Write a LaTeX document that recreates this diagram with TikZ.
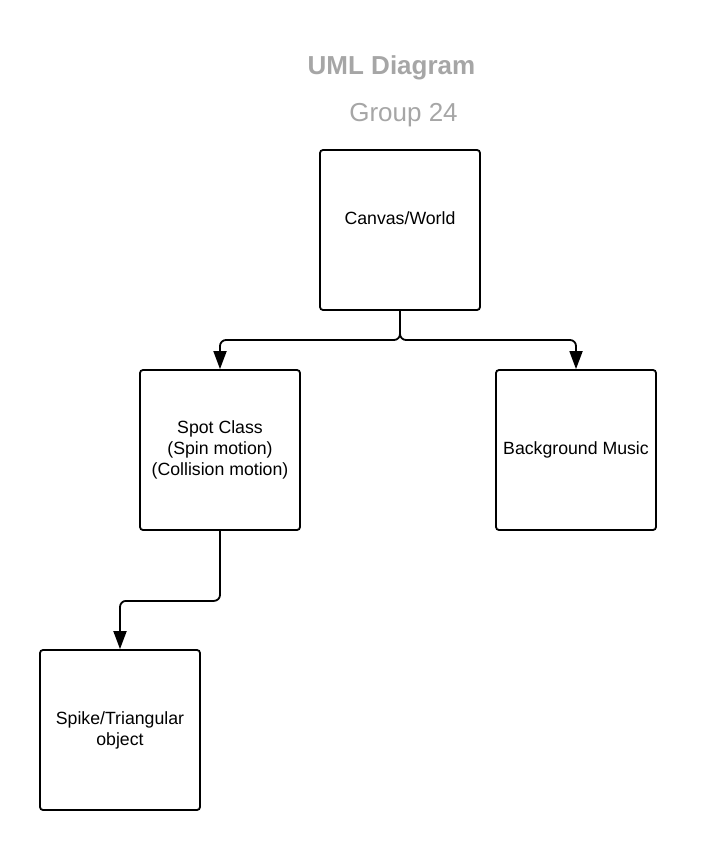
\documentclass[tikz,border=0pt]{standalone}
\usepackage{fontspec}
\setmainfont{Liberation Sans}
\usetikzlibrary{arrows.meta, positioning, calc}
\definecolor{titlegray}{RGB}{166,166,166}

\begin{document}
\begin{tikzpicture}[x=1pt,y=-1pt,
        box/.style={draw, line width=1.8pt, rounded corners=3pt, minimum width=160pt, minimum height=160pt, inner sep=0pt, align=center, font=\fontsize{17.7}{21}\selectfont},
        conn/.style={line width=1.8pt, rounded corners=6pt, -{Triangle[length=18pt,width=13pt]}},
        title/.style={text=titlegray, font=\fontsize{26}{30}\selectfont}]

        % Khung ảnh
        \useasboundingbox (0,0) rectangle (726,850);

        % Tiêu đề
        \node[title, font=\fontsize{26}{30}\selectfont\bfseries] (heading) at (391.5,68) {UML Diagram};
        \node[title] (group) at (403.5,115) {Group 24};

        % Các lớp
        \node[box] (canvas) at (400,230) {\raisebox{24pt}{Canvas/World}};
        \node[box] (spot) at (220,450) {Spot Class\\(Spin motion)\\(Collision motion)};
        \node[box] (music) at (576,450) {\raisebox{2pt}{Background Music}};
        \node[box] (spike) at (120,730) {Spike/Triangular\\object};

        % Các mũi tên
        \coordinate (split) at (400,340);
        \draw[conn] (canvas.south) -- (split) -| (spot.north);
        \draw[conn] (canvas.south) -- (split) -| (music.north);
        \draw[conn] (spot.south) -- ++(0,70) -| (spike.north);

\end{tikzpicture}
\end{document}
